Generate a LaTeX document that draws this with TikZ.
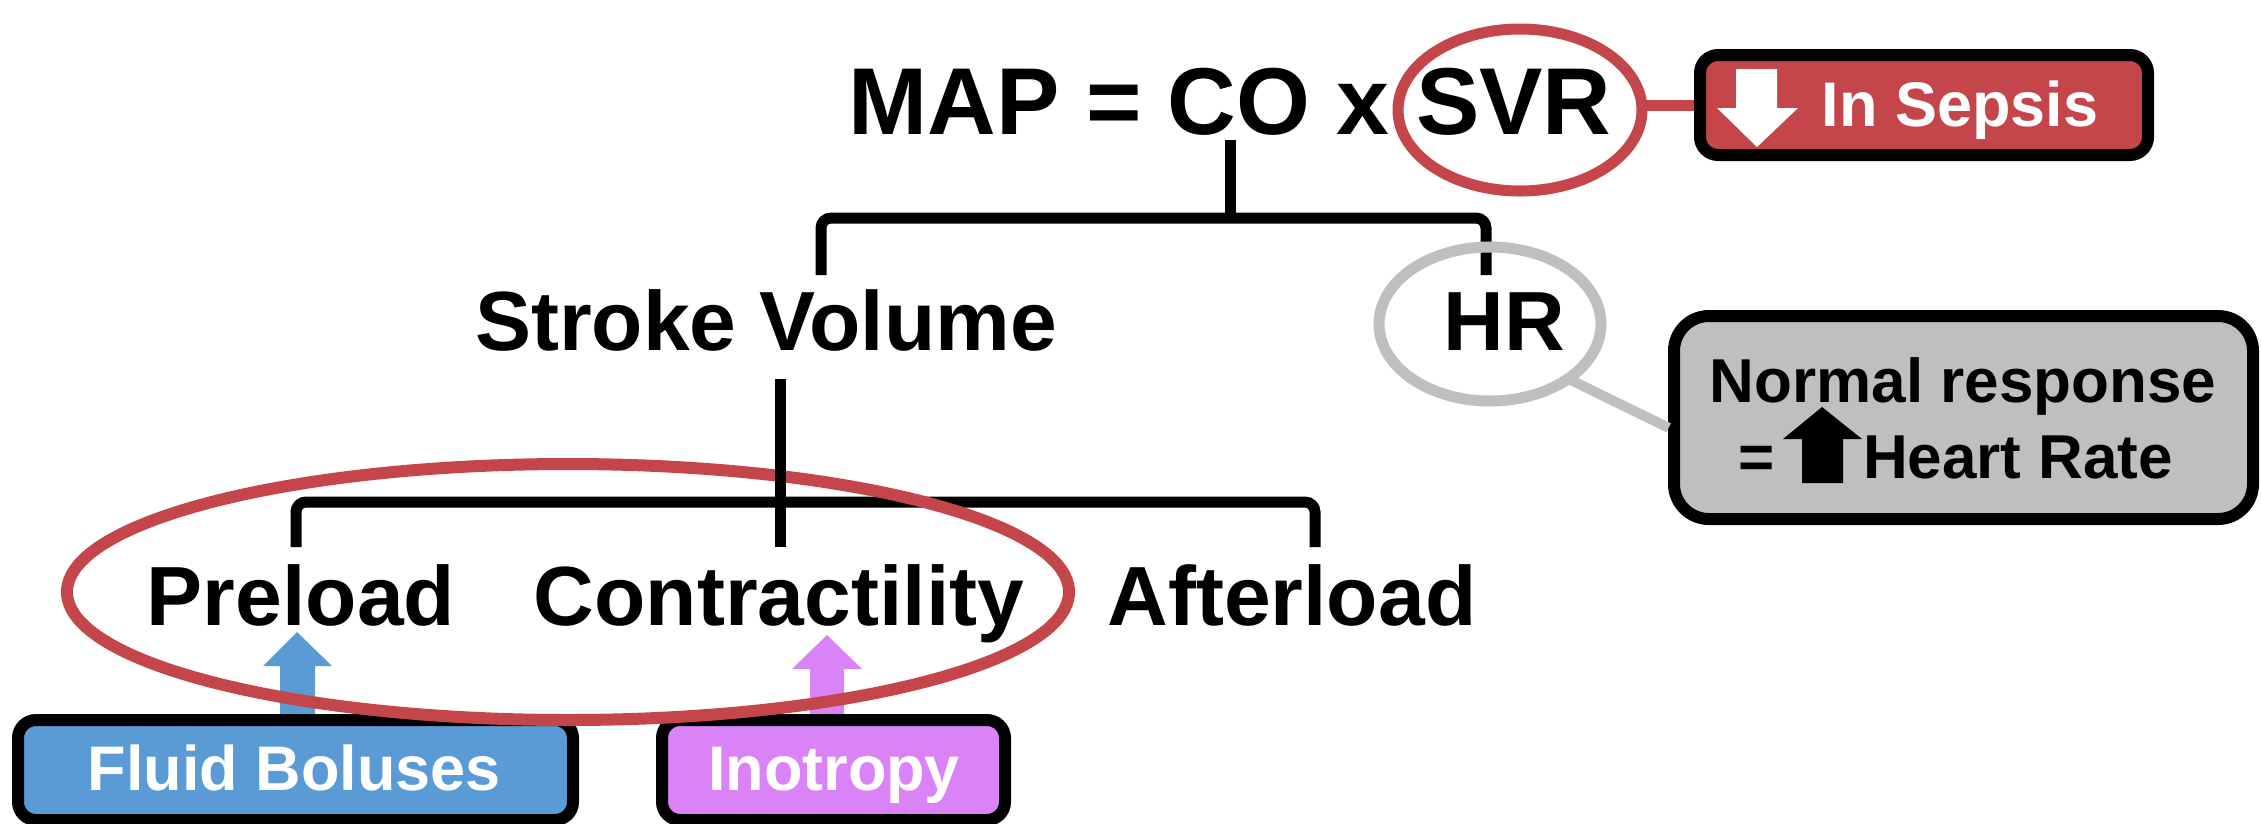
\documentclass[tikz,border=0pt]{standalone}
\usepackage{fontspec}
\setmainfont{Liberation Sans}
\usetikzlibrary{shapes.geometric}
\definecolor{sred}{RGB}{196,70,74}
\definecolor{sgray}{RGB}{191,191,191}
\definecolor{sblue}{RGB}{91,155,213}
\definecolor{spurple}{RGB}{218,131,247}
\newcommand\myfs[1]{\fontsize{#1}{#1}\selectfont}
\begin{document}
\begin{tikzpicture}[x=1pt,y=-1pt,
  lbl/.style={inner sep=0pt, outer sep=0pt, anchor=base},
  brk/.style={line width=11pt, rounded corners=10pt},
  ring/.style={ellipse, inner sep=0pt, outer sep=0pt},
  tagbox/.style={draw=black, line width=12pt, rounded corners=18pt, inner sep=0pt, outer sep=0pt}]
\useasboundingbox (0,0) rectangle (2261,823);

% title
\node[lbl, font=\bfseries\myfs{95}] (map) at (1230,134) {MAP = CO x SVR};
\node[ring, draw=sred, line width=11pt, minimum width=244pt, minimum height=162pt] (svrc) at (1520,110) {};

% In sepsis tag
\node[tagbox, fill=sred, minimum width=448pt, minimum height=100pt] (sepsis) at (1924,105) {};
\draw[sred, line width=11pt, shorten >=6pt] (svrc.east |- sepsis.west) -- (sepsis.west);
\fill[white] (1736,69) -- (1777,69) -- (1777,108) -- (1798,108) -- (1757,147) -- (1717,108) -- (1736,108) -- cycle;
\node[lbl, text=white, font=\bfseries\myfs{63}] (sepsistxt) at (1960,126) {In Sepsis};

% first bracket
\coordinate (b1l) at (821,275);
\coordinate (b1r) at (1486,275);
\draw[line width=11pt] ([yshift=-6pt]map.base) -- (1230,218);
\draw[brk] (b1l) -- (821,218) -- (1486,218) -- (b1r);

% second level
\node[lbl, font=\bfseries\myfs{84}] (sv) at (766,350) {Stroke Volume};
\node[ring, draw=sgray, line width=11pt, minimum width=222pt, minimum height=154pt] (hr) at (1490,324) {};
\node[lbl, font=\bfseries\myfs{84}] (hrtxt) at (1504,350) {HR};

% normal response box
\node[tagbox, fill=sgray, rounded corners=35pt, minimum width=579pt, minimum height=203pt] (normal) at (1963.5,417.5) {};
\draw[sgray, line width=10pt, shorten >=6pt] (hr.-35) -- ([yshift=-13pt]normal.west);
\node[lbl, font=\bfseries\myfs{62}] (nr1) at (1963,402) {Normal response};
\node[lbl, font=\bfseries\myfs{62}] (nreq) at (1757,478) {=};
\fill[black] (1802,483) -- (1802,439) -- (1783,439) -- (1822,407) -- (1862,439) -- (1843,439) -- (1843,483) -- cycle;
\node[lbl, anchor=base west, font=\bfseries\myfs{62}] (nr2) at (1863,478) {Heart Rate};

% second bracket
\coordinate (b2l) at (296,547);
\coordinate (b2r) at (1315,547);
\draw[brk] (b2l) -- (296,502) -- (1315,502) -- (b2r);

% third level
\node[lbl, font=\bfseries\myfs{84}] (pre) at (301,625) {Preload};
\node[lbl, font=\bfseries\myfs{84}] (con) at (779,625) {Contractility};
\node[lbl, font=\bfseries\myfs{84}] (aft) at (1292,625) {Afterload};

% arrows
\fill[sblue] (280,716) -- (280,666) -- (263,666) -- (297,632) -- (332,666) -- (315,666) -- (315,716) -- cycle;
\fill[spurple] (810,716) -- (810,669) -- (792,669) -- (827,635) -- (862,669) -- (844,669) -- (844,716) -- cycle;

% bottom boxes
\node[tagbox, fill=sblue, minimum width=555pt, minimum height=100pt] (fluid) at (295.5,770) {};
\node[lbl, text=white, font=\bfseries\myfs{63}] (fluidtxt) at (294.5,790) {Fluid Boluses};
\node[tagbox, fill=spurple, minimum width=343pt, minimum height=100pt] (ino) at (833.5,770) {};
\node[lbl, text=white, font=\bfseries\myfs{63}] (inotxt) at (834,790) {Inotropy};

% red group ellipse
\node[ring, draw=sred, line width=12pt, minimum width=1002pt, minimum height=256pt] (grp) at (568,592) {};

% vertical from stroke volume
\coordinate (svdown) at (780,379);
\coordinate (svend) at (780,547);
\draw[line width=11pt] (svdown) -- (svend);
\end{tikzpicture}
\end{document}
